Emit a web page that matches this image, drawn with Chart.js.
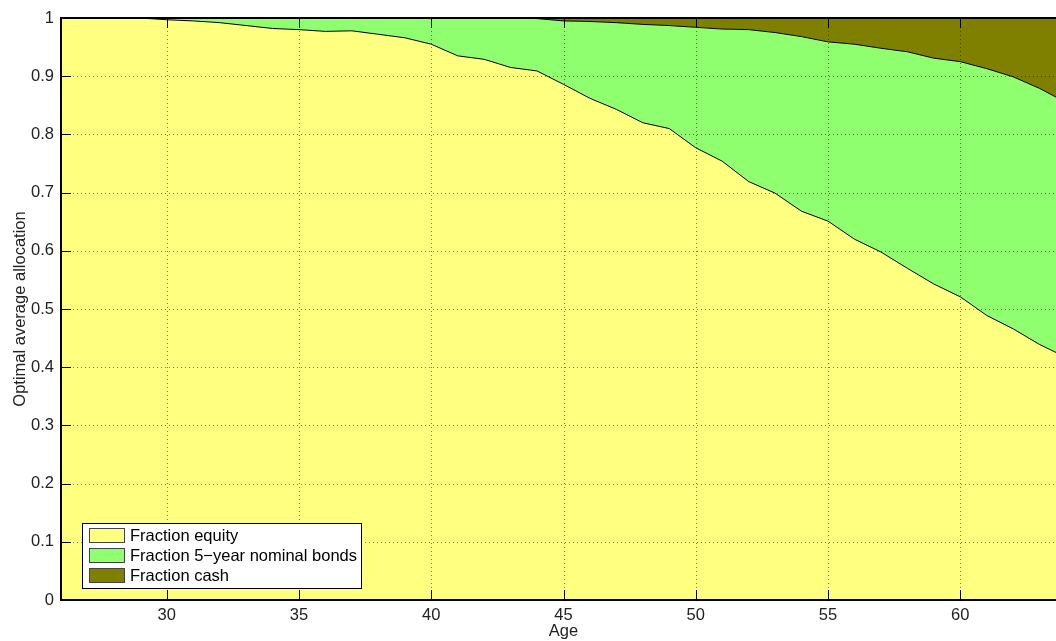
<!DOCTYPE html>
<html>
<head>
<meta charset="utf-8">
<script src="https://cdn.jsdelivr.net/npm/chart.js@4/dist/chart.umd.min.js"></script>
<style>
  html, body { margin: 0; padding: 0; background: #fff; overflow: hidden; }
  canvas { display: block; }
</style>
</head>
<body>
<canvas id="alloc" width="1070" height="641"></canvas>
<script>
// ages on the x axis, one point per year
const ages = [26, 27, 28, 29, 30, 31, 32, 33, 34, 35, 36, 37, 38, 39, 40, 41, 42, 43, 44, 45,
              46, 47, 48, 49, 50, 51, 52, 53, 54, 55, 56, 57, 58, 59, 60, 61, 62, 63, 64];

// fractions (stacked: equity, bonds, cash)
const equity = [1, 1, 1, 1, 0.997, 0.995, 0.992, 0.987, 0.982, 0.980, 0.977, 0.978, 0.972, 0.966,
                0.955, 0.935, 0.929, 0.915, 0.909, 0.886, 0.862, 0.843, 0.820, 0.810, 0.777, 0.754,
                0.719, 0.699, 0.668, 0.651, 0.620, 0.598, 0.570, 0.543, 0.521, 0.489, 0.466, 0.439, 0.417];
const bonds = [0, 0, 0, 0, 0.003, 0.005, 0.008, 0.013, 0.018, 0.020, 0.023, 0.022, 0.028, 0.034,
               0.045, 0.065, 0.071, 0.085, 0.090, 0.109, 0.132, 0.149, 0.169, 0.177, 0.207, 0.227,
               0.261, 0.276, 0.300, 0.308, 0.335, 0.350, 0.372, 0.388, 0.404, 0.424, 0.433, 0.440, 0.438];
const cash = [0, 0, 0, 0, 0, 0, 0, 0, 0, 0, 0, 0, 0, 0,
              0, 0, 0, 0, 0.001, 0.005, 0.006, 0.008, 0.011, 0.013, 0.016, 0.019,
              0.020, 0.025, 0.032, 0.041, 0.045, 0.052, 0.058, 0.069, 0.075, 0.087, 0.101, 0.121, 0.145];

const seriesNames = ['Fraction equity', 'Fraction 5\u2212year nominal bonds', 'Fraction cash'];
const seriesColors = ['#ffff80', '#8fff6f', '#808000'];

const xTicks = [30, 35, 40, 45, 50, 55, 60];
const yTicks = [0, 0.1, 0.2, 0.3, 0.4, 0.5, 0.6, 0.7, 0.8, 0.9, 1];
const yTickLabels = ['0', '0.1', '0.2', '0.3', '0.4', '0.5', '0.6', '0.7', '0.8', '0.9', '1'];

const FONT = "'Liberation Sans', Arial, Helvetica, sans-serif";
const FSIZE = 16.5;

function toPoints(values) {
    return values.map((v, i) => ({ x: ages[i], y: v }));
}

// matlab style: dotted grid over the areas, inward ticks, box, legend inside
const matlabAxes = {
    id: 'matlabAxes',
    afterDatasetsDraw(chart) {
        const ctx = chart.ctx;
        const a = chart.chartArea;
        const xs = chart.scales.x, ys = chart.scales.y;
        ctx.save();

        // grid
        ctx.strokeStyle = 'rgba(0,0,0,0.5)';
        ctx.lineWidth = 1;
        ctx.setLineDash([1, 3]);
        xTicks.forEach(t => {
            const px = Math.round(xs.getPixelForValue(t)) + 0.5;
            ctx.beginPath(); ctx.moveTo(px, a.bottom); ctx.lineTo(px, a.top); ctx.stroke();
        });
        yTicks.forEach(t => {
            if (t === 0 || t === 1) return;
            const py = Math.round(ys.getPixelForValue(t)) + 0.5;
            ctx.beginPath(); ctx.moveTo(a.left, py); ctx.lineTo(a.right, py); ctx.stroke();
        });
        ctx.setLineDash([]);

        // inward tick marks
        ctx.strokeStyle = '#000';
        const tl = 10;
        xTicks.forEach(t => {
            const px = Math.round(xs.getPixelForValue(t)) + 0.5;
            ctx.beginPath();
            ctx.moveTo(px, a.bottom); ctx.lineTo(px, a.bottom - tl);
            ctx.moveTo(px, a.top); ctx.lineTo(px, a.top + tl);
            ctx.stroke();
        });
        yTicks.forEach(t => {
            const py = Math.round(ys.getPixelForValue(t)) + 0.5;
            ctx.beginPath();
            ctx.moveTo(a.left, py); ctx.lineTo(a.left + tl, py);
            ctx.moveTo(a.right, py); ctx.lineTo(a.right - tl, py);
            ctx.stroke();
        });

        // box
        ctx.lineWidth = 2;
        ctx.strokeRect(a.left, a.top, a.right - a.left, a.bottom - a.top);

        // legend
        ctx.font = FSIZE + 'px ' + FONT;
        const names = chart.data.datasets.map(d => d.label);
        const textW = Math.max(...names.map(n => ctx.measureText(n).width));
        const bx = a.left + 21, by = a.bottom - 77;
        const bw = 48 + textW + 4, bh = 65;
        ctx.fillStyle = '#fff';
        ctx.fillRect(bx, by, bw, bh);
        ctx.lineWidth = 1;
        ctx.strokeStyle = '#000';
        ctx.strokeRect(bx + 0.5, by + 0.5, bw, bh);
        chart.data.datasets.forEach((d, i) => {
            const ry = by + 5 + i * 20;
            ctx.fillStyle = d.backgroundColor;
            ctx.fillRect(bx + 7, ry, 36, 15);
            ctx.strokeStyle = '#444';
            ctx.strokeRect(bx + 7.5, ry + 0.5, 35, 14);
            ctx.fillStyle = '#000';
            ctx.textBaseline = 'middle';
            ctx.textAlign = 'left';
            ctx.fillText(d.label, bx + 48, ry + 8);
        });
        ctx.restore();
    }
};

const datasets = [equity, bonds, cash].map((vals, i) => ({
    label: seriesNames[i],
    data: toPoints(vals),
    backgroundColor: seriesColors[i],
    borderColor: '#000',
    borderWidth: 1,
    pointRadius: 0,
    tension: 0,
    fill: i === 0 ? 'origin' : '-1'
}));

new Chart(document.getElementById('alloc').getContext('2d'), {
    type: 'line',
    data: { datasets: datasets },
    options: {
        responsive: false,
        animation: false,
        devicePixelRatio: 1,
        layout: { padding: { top: 18, right: 4, left: 0, bottom: 0 } },
        plugins: {
            legend: { display: false },
            tooltip: { enabled: false }
        },
        scales: {
            x: {
                type: 'linear',
                min: 26,
                max: 64,
                grid: { display: false, drawTicks: false },
                border: { display: false },
                afterBuildTicks: s => { s.ticks = xTicks.map(v => ({ value: v })); },
                afterFit: s => { s.height = 41; },
                ticks: {
                    color: '#222',
                    padding: 6,
                    maxRotation: 0,
                    autoSkip: false,
                    font: { family: FONT, size: FSIZE },
                    callback: v => String(v)
                },
                title: {
                    display: true,
                    text: 'Age',
                    color: '#222',
                    padding: { top: 0, bottom: 0 },
                    font: { family: FONT, size: FSIZE }
                }
            },
            y: {
                stacked: true,
                min: 0,
                max: 1,
                grid: { display: false, drawTicks: false },
                border: { display: false },
                afterBuildTicks: s => { s.ticks = yTicks.map(v => ({ value: v })); },
                afterFit: s => { s.width = 61; },
                ticks: {
                    color: '#222',
                    padding: 7,
                    autoSkip: false,
                    font: { family: FONT, size: FSIZE },
                    callback: (v, i) => yTickLabels[i]
                },
                title: {
                    display: true,
                    text: 'Optimal average allocation',
                    color: '#222',
                    padding: { top: 11, bottom: 0 },
                    font: { family: FONT, size: FSIZE }
                }
            }
        }
    },
    plugins: [matlabAxes]
});
</script>
</body>
</html>
